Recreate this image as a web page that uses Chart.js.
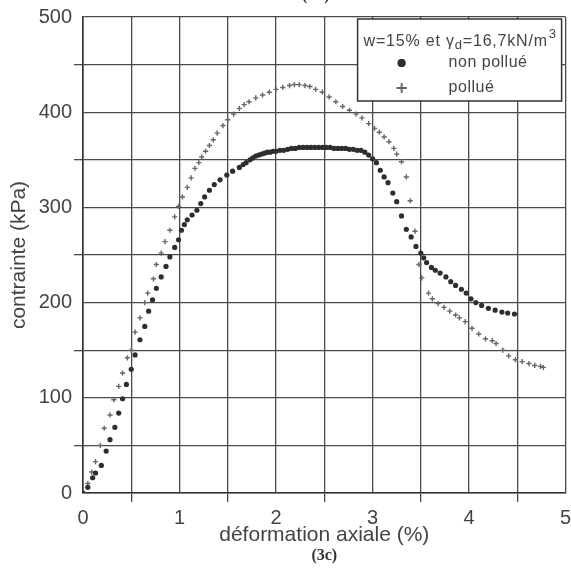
<!DOCTYPE html>
<html>
<head>
<meta charset="utf-8">
<script src="https://cdn.jsdelivr.net/npm/chart.js@4.4.1/dist/chart.umd.min.js"></script>
<style>
  body { margin: 0; background: #fff; overflow: hidden; }
  #wrap { position: relative; width: 571px; height: 570px; }
  #top-label { position: absolute; top: -14px; left: 302px; font: bold 16px "Liberation Serif", serif; color: #333; }
</style>
</head>
<body>
<div id="wrap">
  <div id="top-label">(3b)</div>
  <canvas id="myChart" width="571" height="570"></canvas>
</div>
<script>

//// data ////

const strainNonPollue = [0.00,0.05,0.10,0.13,0.19,0.24,0.28,0.33,0.37,0.41,0.45,0.50,0.54,0.59,0.64,0.68,0.72,0.76,0.81,0.86,
  0.90,0.95,0.99,1.02,1.05,1.08,1.13,1.18,1.22,1.26,1.31,1.36,1.42,1.49,1.55,1.62,1.66,1.69,1.73,1.76,
  1.79,1.82,1.85,1.88,1.91,1.94,1.97,2.00,2.04,2.08,2.12,2.16,2.20,2.24,2.28,2.32,2.36,2.40,2.44,2.48,
  2.52,2.56,2.60,2.64,2.68,2.72,2.76,2.80,2.84,2.88,2.92,2.96,3.00,3.04,3.08,3.12,3.16,3.21,3.25,3.30,
  3.35,3.40,3.45,3.50,3.53,3.56,3.61,3.65,3.70,3.76,3.81,3.86,3.92,3.97,4.02,4.07,4.13,4.20,4.27,4.34,
  4.40,4.47];
const stressNonPollue = [0,6,16,21,29,44,56,69,84,99,114,130,145,161,175,191,203,215,227,238,
  248,258,266,276,282,287,292,297,304,311,318,324,329,334,338,342,345,347,350,352,
  354,355,356,357,358,358,359,359,360,360,361,362,362,363,363,363,363,363,363,363,
  363,363,362,362,362,362,361,361,360,360,358,355,351,347,339,332,326,315,306,291,
  277,269,259,252,247,242,237,234,231,227,222,218,214,210,204,200,197,194,192,190,
  189,188];

const strainPollue = [0.00,0.05,0.09,0.13,0.18,0.22,0.28,0.32,0.37,0.41,0.46,0.50,0.54,0.59,0.64,0.67,0.73,0.76,0.81,0.85,
  0.90,0.95,0.99,1.03,1.08,1.12,1.16,1.20,1.23,1.27,1.31,1.35,1.39,1.45,1.50,1.56,1.62,1.67,1.72,1.79,
  1.86,1.93,2.00,2.07,2.14,2.19,2.24,2.30,2.35,2.41,2.48,2.55,2.62,2.69,2.76,2.83,2.89,2.96,3.02,3.07,
  3.12,3.17,3.22,3.25,3.30,3.35,3.39,3.44,3.48,3.51,3.58,3.62,3.68,3.74,3.80,3.86,3.90,3.96,4.03,4.10,
  4.17,4.24,4.28,4.35,4.41,4.48,4.55,4.62,4.68,4.74,4.77];
const stressPollue = [0,10,22,33,50,68,82,98,112,126,142,150,169,184,200,210,225,240,252,264,
  276,290,301,311,321,331,341,347,353,359,365,371,378,386,392,398,404,408,411,415,
  418,421,424,426,428,429,429,428,427,424,421,416,411,406,402,398,394,388,383,379,
  374,369,362,356,348,332,307,275,240,226,210,204,199,195,191,187,184,180,173,167,
  162,160,157,150,144,140,138,136,134,133,132];

const seriesLabels = ['non pollué', 'pollué'];
const legendHeader = ['w=15% et γ', 'd', '=16,7kN/m', '3'];   // text, sub, text, sup
const xTitle = 'déformation axiale (%)';
const yTitle = 'contrainte (kPa)';
const figTag = '(3c)';

const toPoints = (xs, ys) => xs.map((x, i) => ({x: x, y: ys[i]}));

const gridCol = '#4a4a4a';
const textCol = '#444';
const sans = '"Liberation Sans", Arial, sans-serif';

// legend box drawn in the top right corner of the plot
const boxLegend = {
  id: 'boxLegend',
  afterDraw(chart) {
    const c = chart.ctx;
    const area = chart.chartArea;
    const w = 204, h = 82;
    const x0 = area.right - w - 4, y0 = area.top + 2;
    c.save();
    c.fillStyle = '#fff';
    c.fillRect(x0, y0, w, h);
    c.strokeStyle = '#333';
    c.lineWidth = 1.5;
    c.strokeRect(x0, y0, w, h);

    // header with subscript / superscript
    c.fillStyle = textCol;
    c.textBaseline = 'alphabetic';
    c.textAlign = 'left';
    c.letterSpacing = '0.8px';
    let x = x0 + 6;
    const base = y0 + 27;
    c.font = '16px ' + sans;
    c.fillText(legendHeader[0], x, base); x += c.measureText(legendHeader[0]).width;
    c.font = '13px ' + sans;
    c.fillText(legendHeader[1], x, base + 3); x += c.measureText(legendHeader[1]).width;
    c.font = '16px ' + sans;
    c.fillText(legendHeader[2], x, base); x += c.measureText(legendHeader[2]).width;
    c.font = '13px ' + sans;
    c.fillText(legendHeader[3], x + 1, base - 8);

    // one row per dataset
    c.font = '16px ' + sans;
    c.letterSpacing = '0.5px';
    c.textBaseline = 'middle';
    chart.data.datasets.forEach(function (ds, i) {
      const yy = y0 + 44 + i * 25;
      Chart.helpers.drawPoint(c, {
        pointStyle: ds.pointStyle,
        radius: i === 0 ? 4 : 5,
        borderWidth: ds.borderWidth
      }, x0 + 44, yy);
      c.fillStyle = ds.backgroundColor;
      c.strokeStyle = ds.borderColor;
      c.lineWidth = ds.borderWidth;
      if (ds.pointStyle === 'circle') { c.fill(); } else { c.stroke(); }
      c.fillStyle = textCol;
      c.fillText(ds.label, x0 + 91, yy);
    });
    c.restore();
  }
};

function render_chart() {
  const ctx = document.getElementById('myChart');
  const myChart = new Chart(ctx, {
    type: 'scatter',
    data: {
      datasets: [{
        label: seriesLabels[0],
        data: toPoints(strainNonPollue, stressNonPollue),
        pointStyle: 'circle',
        pointRadius: 2.6,
        backgroundColor: '#2e2e2e',
        borderColor: '#2e2e2e',
        borderWidth: 0
      }, {
        label: seriesLabels[1],
        data: toPoints(strainPollue, stressPollue),
        pointStyle: 'cross',
        pointRadius: 2.6,
        backgroundColor: '#666',
        borderColor: '#666',
        borderWidth: 1.4
      }]
    },
    options: {
      responsive: false,
      animation: false,
      layout: { padding: { top: 17, right: 0, bottom: 3.5, left: 0 } },
      plugins: {
        legend: { display: false },
        tooltip: { enabled: false },
        title: {
          display: true,
          text: figTag,
          position: 'bottom',
          fullSize: false,
          color: '#333',
          font: { family: '"Liberation Serif", serif', size: 16, weight: 'bold', lineHeight: 1 },
          padding: { top: 0, bottom: 3 }
        }
      },
      scales: {
        x: {
          type: 'linear',
          min: 0, max: 5,
          afterFit: function (s) {
            s.height = 54.5;
            // let the last label run to the canvas edge, as in the figure
            s.paddingRight = 4;
            s.paddingLeft = 0;
          },
          ticks: {
            stepSize: 0.5,
            autoSkip: false,
            maxRotation: 0,
            padding: 4,
            color: textCol,
            font: { family: sans, size: 20 },
            callback: function (v) { return v % 1 === 0 ? v : ''; }
          },
          grid: {
            color: gridCol,
            lineWidth: 1.3,
            tickLength: 9,
            tickColor: function (c) { return c.tick && c.tick.value % 1 !== 0 ? gridCol : 'rgba(0,0,0,0)'; }
          },
          border: { color: '#333', width: 1.6 },
          title: {
            display: true,
            text: xTitle,
            color: textCol,
            font: { family: sans, size: 21, lineHeight: 1 },
            padding: { top: 0, bottom: 2 }
          }
        },
        y: {
          min: 0, max: 500,
          afterFit: function (s) { s.width = 83; },
          ticks: {
            stepSize: 50,
            autoSkip: false,
            padding: 2,
            color: textCol,
            font: { family: sans, size: 20 },
            callback: function (v) { return v % 100 === 0 ? v : ''; }
          },
          grid: {
            color: gridCol,
            lineWidth: 1.3,
            tickLength: 9,
            tickColor: function (c) { return c.tick && c.tick.value % 100 !== 0 ? gridCol : 'rgba(0,0,0,0)'; }
          },
          border: { color: '#333', width: 1.6 },
          title: {
            display: true,
            text: yTitle,
            color: textCol,
            font: { family: sans, size: 21 },
            padding: { top: 7, bottom: 0 }
          }
        }
      }
    },
    plugins: [boxLegend]
  });
  console.log(myChart.chartArea);
}

render_chart();
</script>
</body>
</html>
